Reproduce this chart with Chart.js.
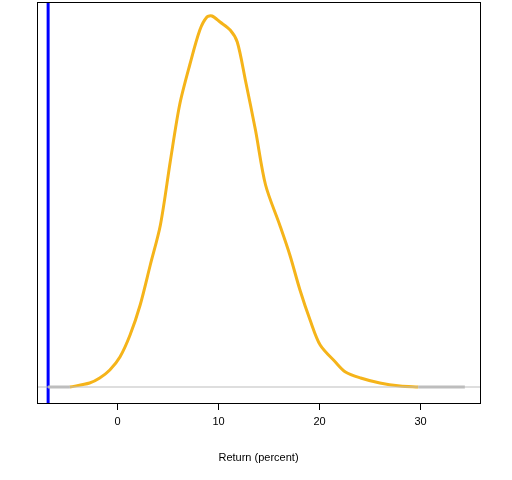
<!DOCTYPE html>
<html>
<head>
<meta charset="utf-8">
<script src="https://cdn.jsdelivr.net/npm/chart.js@4"></script>
<style>
  body { margin: 0; background: #fff; }
  #wrap { width: 512px; height: 480px; }
</style>
</head>
<body>
<div id="wrap"><canvas id="chart" width="512" height="480"></canvas></div>
<script>
// density curve (returns in percent, density in relative units)
const returnsX = [-4.65, -2.7, -1.7, -0.7, 0.3, 1.3, 2.3, 3.3, 4.3, 5.3, 6.2, 7.2, 8.2, 8.9, 9.4,
  10.2, 11.2, 11.9, 12.7, 13.7, 14.7, 16.1, 17.1, 18.1, 19.1, 20.1, 21.6, 22.6, 24.1, 26.0, 28.0, 29.8];
const densityY = [0, 4, 9, 17, 30, 52, 82, 122, 162, 227, 282, 322, 357, 370, 371,
  365, 357, 345, 307, 257, 202, 162, 132, 97, 67, 42, 25, 15, 9, 4, 1, 0];
const leftTailX = [-6.8, -4.65];
const rightTailX = [29.8, 34.4];
const markerX = -6.8;
const xTicks = [0, 10, 20, 30];
const xTitle = 'Return (percent)';

const X_MIN = -7.9, X_MAX = 35.9, Y_MIN = -16, Y_MAX = 385;

const curve = returnsX.map((x, i) => ({ x: x, y: densityY[i] }));

const frame = {
  id: 'frame',
  afterDraw(chart) {
    const { ctx, chartArea: a, scales: { x } } = chart;
    ctx.save();
    ctx.strokeStyle = '#000';
    ctx.lineWidth = 1;
    ctx.strokeRect(a.left + 0.5, a.top + 0.5, a.right - a.left, a.bottom - a.top);
    ctx.fillStyle = '#000';
    ctx.font = '11px "Liberation Sans", Arial, sans-serif';
    ctx.textAlign = 'center';
    ctx.textBaseline = 'middle';
    xTicks.forEach(t => {
      const px = Math.round(x.getPixelForValue(t)) + 0.5;
      ctx.beginPath();
      ctx.moveTo(px, a.bottom);
      ctx.lineTo(px, a.bottom + 7);
      ctx.stroke();
      ctx.fillText(String(t), px, a.bottom + 19);
    });
    ctx.fillText(xTitle, (a.left + a.right) / 2, a.bottom + 55);
    ctx.restore();
  }
};

new Chart(document.getElementById('chart'), {
  type: 'line',
  data: {
    datasets: [
      { data: [{ x: X_MIN, y: 0 }, { x: X_MAX, y: 0 }], borderColor: '#bdbdbd', borderWidth: 1 },
      { data: leftTailX.map(x => ({ x: x, y: 0 })), borderColor: '#bdbdbd', borderWidth: 3 },
      { data: rightTailX.map(x => ({ x: x, y: 0 })), borderColor: '#bdbdbd', borderWidth: 3 },
      { data: curve, borderColor: '#f5b41a', borderWidth: 3, tension: 0.3 },
      { data: [{ x: markerX, y: Y_MIN }, { x: markerX, y: Y_MAX }], borderColor: '#0000ff', borderWidth: 3 }
    ]
  },
  options: {
    responsive: false,
    animation: false,
    layout: { padding: { left: 37, right: 32, top: 2, bottom: 77 } },
    elements: { point: { radius: 0 } },
    plugins: { legend: { display: false }, tooltip: { enabled: false } },
    scales: {
      x: { type: 'linear', min: X_MIN, max: X_MAX, display: false },
      y: { type: 'linear', min: Y_MIN, max: Y_MAX, display: false }
    }
  },
  plugins: [frame]
});
</script>
</body>
</html>
